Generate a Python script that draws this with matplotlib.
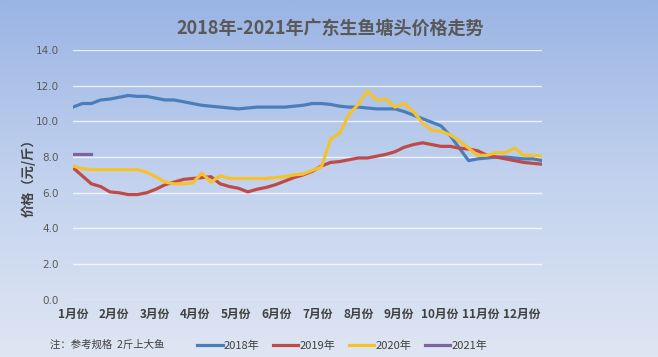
import numpy as np
import matplotlib.pyplot as plt
from matplotlib.colors import LinearSegmentedColormap

plt.rcParams['font.family'] = ['Noto Sans CJK SC', 'DejaVu Sans']

# weekly prices (yuan / jin)
p2018 = [10.8, 11.0, 11.0, 11.2, 11.25, 11.35, 11.45, 11.4, 11.4, 11.3,
         11.2, 11.2, 11.1, 11.0, 10.9, 10.85, 10.8, 10.75, 10.7, 10.75,
         10.8, 10.8, 10.8, 10.8, 10.85, 10.9, 11.0, 11.0, 10.95, 10.85,
         10.8, 10.8, 10.75, 10.7, 10.7, 10.7, 10.55, 10.35, 10.15, 9.95,
         9.75, 9.2, 8.5, 7.8, 7.9, 7.95, 8.0, 8.0, 7.95, 7.9,
         7.9, 7.8]
p2019 = [7.4, 6.95, 6.5, 6.35, 6.05, 6.0, 5.9, 5.9, 6.0, 6.2,
         6.45, 6.6, 6.75, 6.8, 6.85, 6.9, 6.5, 6.35, 6.25, 6.05,
         6.2, 6.3, 6.45, 6.65, 6.85, 7.0, 7.2, 7.5, 7.7, 7.75,
         7.85, 7.95, 7.95, 8.05, 8.15, 8.3, 8.55, 8.7, 8.8, 8.7,
         8.6, 8.6, 8.5, 8.45, 8.35, 8.1, 8.0, 7.9, 7.8, 7.7,
         7.65, 7.6]
p2020 = [7.5, 7.35, 7.3, 7.3, 7.3, 7.3, 7.3, 7.3, 7.15, 6.9,
         6.6, 6.5, 6.5, 6.55, 7.1, 6.6, 6.95, 6.8, 6.8, 6.8,
         6.8, 6.8, 6.85, 6.9, 7.0, 7.05, 7.25, 7.45, 9.0, 9.35,
         10.4, 10.95, 11.7, 11.2, 11.25, 10.8, 11.0, 10.55, 9.9, 9.5,
         9.45, 9.25, 8.9, 8.5, 8.1, 8.1, 8.25, 8.25, 8.5, 8.1,
         8.1, 8.05]
p2021 = [8.2, 8.2, 8.2]

months = ['1月份', '2月份', '3月份', '4月份', '5月份', '6月份',
          '7月份', '8月份', '9月份', '10月份', '11月份', '12月份']

fig = plt.figure(figsize=(6.58, 3.57), dpi=100)

# background gradient
bg = fig.add_axes([0, 0, 1, 1], zorder=-10)
cmap = LinearSegmentedColormap.from_list('bg', ['#9ab4e4', '#c2d2ee', '#dfe6f3'])
bg.imshow(np.linspace(0, 1, 256).reshape(-1, 1), aspect='auto', cmap=cmap,
          extent=[0, 1, 0, 1])
bg.axis('off')

ax = fig.add_axes([0.111, 0.16, 0.713, 0.70])
ax.patch.set_alpha(0)

ax.plot(range(len(p2018)), p2018, color='#4a7ebb', lw=2.3, label='2018年')
ax.plot(range(len(p2019)), p2019, color='#be4b48', lw=2.3, label='2019年')
ax.plot(range(len(p2020)), p2020, color='#f5c22c', lw=2.3, label='2020年')
ax.plot(range(len(p2021)), p2021, color='#7f63a1', lw=2.3, label='2021年')

ax.set_xlim(0, 51)
ax.set_ylim(0, 14)
ax.set_yticks(np.arange(0, 15, 2))
ax.set_yticklabels(['%.1f' % v for v in np.arange(0, 15, 2)], fontsize=7.5, color='#595959',
                   family=['DejaVu Sans'])
ax.set_xticks([i * 4.43 for i in range(12)])
ax.set_xticklabels(months, fontsize=8.5, fontweight='bold', color='#404040')
ax.tick_params(length=0, pad=6)
ax.tick_params(axis='y', pad=10)
ax.grid(axis='y', color='white', lw=1, alpha=0.75)
ax.set_axisbelow(True)
for s in ax.spines.values():
    s.set_visible(False)

ax.set_ylabel('价格（元/斤）', fontsize=9.5, fontweight='bold', color='#404040', labelpad=0)

fig.text(0.502, 0.92, '2018年-2021年广东生鱼塘头价格走势', ha='center', va='center',
         fontsize=13, fontweight='bold', color='#595959')
fig.text(0.076, 0.035, '注：参考规格  2斤上大鱼', ha='left', va='center',
         fontsize=7.5, color='#404040')

fig.legend(loc='center', bbox_to_anchor=(0.52, 0.032), ncol=4, frameon=False,
           fontsize=8, handlelength=2.3, columnspacing=1.2, handletextpad=0.1,
           labelcolor='#404040')

fig.savefig('out.png', dpi=100)
